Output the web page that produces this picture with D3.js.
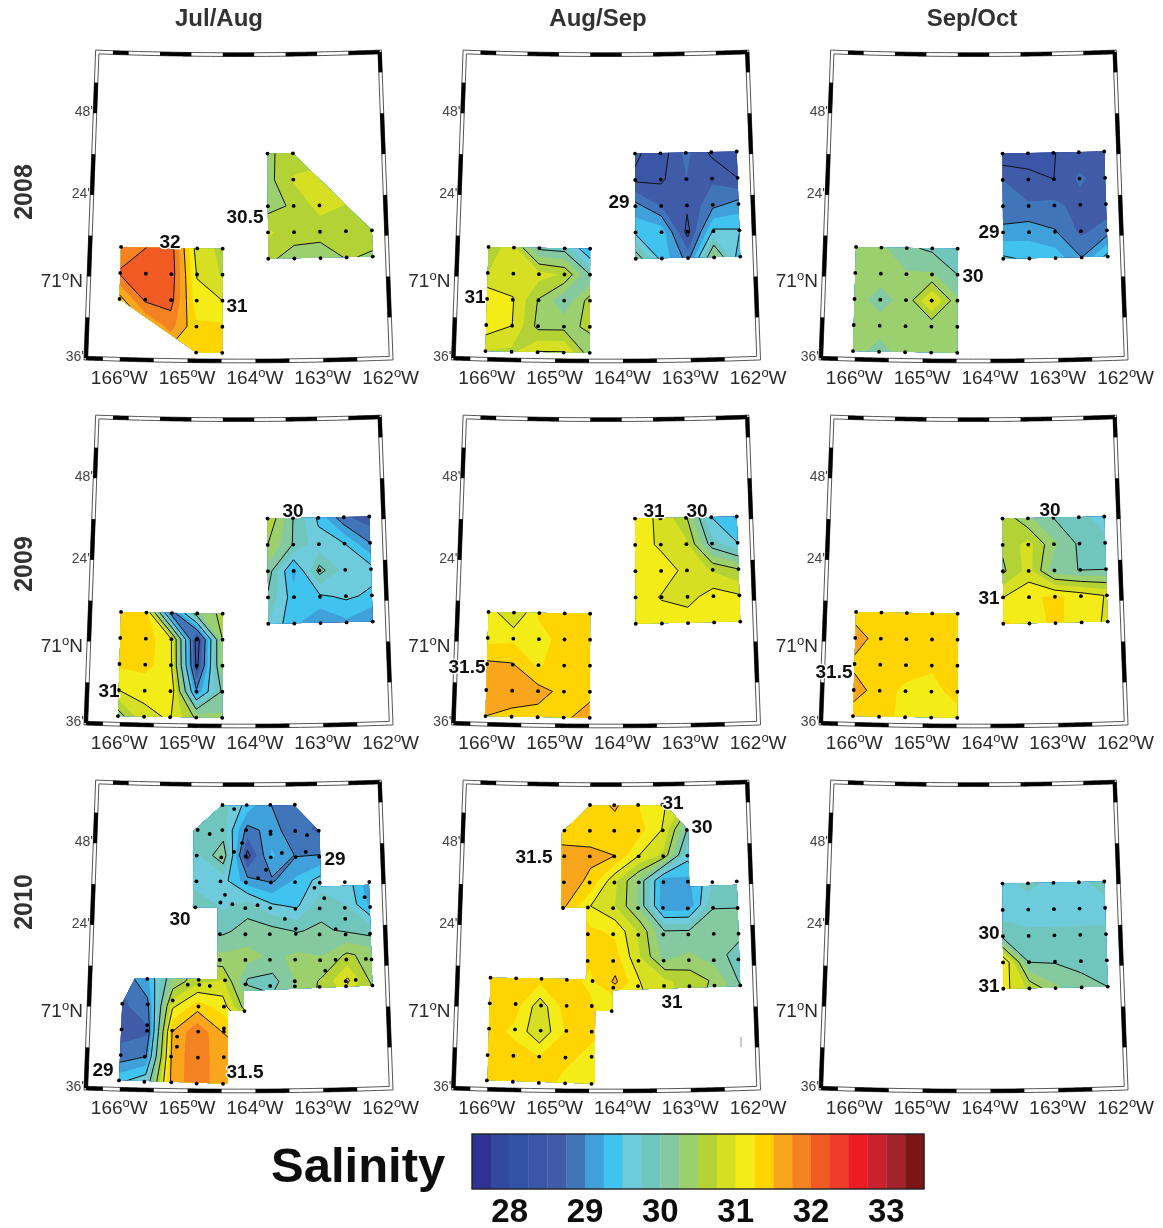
<!DOCTYPE html>
<html>
<head>
<meta charset="utf-8">
<script src="https://cdn.jsdelivr.net/npm/d3@7"></script>
<style>
  html, body { margin: 0; background: #fff; }
  svg { display: block; }
  text { font-family: "Liberation Sans", Arial, sans-serif; }
</style>
</head>
<body>
<div id="container"></div>
<script>
const n = null;

// colour bands of the salinity scale, one per 0.25
const bandEdges = d3.range(27.5, 33.5, 0.25);
const bandColors = ["#2e3192", "#3049a0", "#3353a6", "#3a57a7", "#3f5ba9", "#3f75b9",
  "#41a0da", "#3fc3ee", "#6dcbdb", "#70c6bd", "#84c99f", "#9ccf6e",
  "#b2d235", "#d7df23", "#f3ec19", "#ffd400", "#faa61a", "#f58220",
  "#f15a22", "#ef3a29", "#ed1c24", "#c9202d", "#a4242a", "#7a1716"];
const barTicks = [28, 29, 30, 31, 32, 33];
const lineLevels = [28, 28.5, 29, 29.5, 30, 30.5, 31, 31.5, 32];

const periods = ["Jul/Aug", "Aug/Sep", "Sep/Oct"];
const years = ["2008", "2009", "2010"];

// salinity at the stations, top row first
const jul08Klondike = [
  [31.75, 32.0, 32.1, 30.85, 30.7],
  [32.05, 32.15, 32.15, 30.98, 30.72],
  [31.4, 32.05, 32.1, 31.1, 31.0],
  [31.2, 31.45, 31.85, 31.3, 31.3],
  [31.2, 31.2, 31.4, 31.5, 31.35]];
const jul08Burger = [
  [30.45, 30.62, 30.65, 30.6, 30.6],
  [30.4, 30.78, 30.82, 30.7, 30.6],
  [30.38, 30.55, 30.85, 30.75, 30.6],
  [30.8, 30.6, 30.6, 30.6, 30.6],
  [30.55, 30.4, 30.35, 30.52, 30.47]];
const aug08Klondike = [
  [30.7, 30.8, 29.95, 29.9, 29.2],
  [30.75, 30.85, 30.85, 30.72, 30.0],
  [31.2, 31.02, 30.48, 30.05, 30.62],
  [31.15, 31.0, 30.42, 30.42, 30.55],
  [30.75, 30.7, 31.02, 31.02, 30.35]];
const aug08Burger = [
  [28.55, 28.35, 28.82, 28.45, 28.35],
  [28.45, 28.45, 28.75, 28.7, 28.5],
  [29.1, 28.75, 28.55, 28.92, 29.1],
  [29.45, 29.4, 28.4, 29.55, 29.52],
  [30.2, 29.4, 28.9, 30.4, 29.3]];
const sep08Klondike = [
  [30.3, 30.3, 30.05, 29.95, 29.85],
  [30.3, 30.3, 30.28, 30.28, 30.0],
  [30.3, 30.2, 30.3, 31.05, 30.3],
  [30.3, 30.3, 30.3, 30.3, 30.3],
  [30.3, 30.2, 30.3, 30.3, 30.3]];
const sep08Burger = [
  [28.3, 28.35, 28.49, 28.6, 28.6],
  [28.75, 28.6, 28.5, 28.8, 28.6],
  [28.78, 28.78, 28.82, 28.65, 28.62],
  [29.1, 29.15, 29.02, 28.7, 28.85],
  [29.55, 29.45, 29.4, 29.0, 29.6]];
const jul09Klondike = [
  [31.3, 31.35, 28.8, 30.2, 30.6],
  [31.35, 31.4, 31.0, 28.3, 30.5],
  [31.3, 31.35, 31.05, 28.4, 30.45],
  [31.0, 31.05, 31.28, 29.05, 30.05],
  [30.35, 30.95, 31.02, 30.45, 30.3]];
const jul09Burger = [
  [30.75, 30.0, 29.45, 28.8, 28.6],
  [30.5, 29.98, 29.6, 29.5, 29.0],
  [30.15, 29.15, 30.1, 29.65, 29.6],
  [29.95, 29.35, 29.45, 29.55, 29.45],
  [29.75, 29.3, 29.0, 29.2, 29.0]];
const aug09Klondike = [
  [31.15, 30.72, 31.3, 31.32, 31.35],
  [31.15, 31.2, 31.15, 31.35, 31.35],
  [31.55, 31.52, 31.2, 31.5, 31.38],
  [31.7, 31.7, 31.6, 31.42, 31.42],
  [31.5, 31.4, 31.4, 31.45, 31.62]];
const aug09Burger = [
  [31.12, 30.95, 30.55, 29.5, 29.2],
  [31.15, 30.95, 30.8, 29.85, 29.5],
  [31.12, 31.15, 30.92, 30.72, 30.5],
  [31.15, 30.98, 30.9, 31.12, 31.02],
  [31.15, 31.15, 31.15, 31.15, 31.15]];
const sep09Klondike = [
  [31.35, 31.35, 31.35, 31.35, 31.35],
  [31.65, 31.35, 31.35, 31.35, 31.35],
  [31.42, 31.42, 31.35, 31.27, 31.35],
  [31.65, 31.35, 31.2, 31.2, 31.3],
  [31.32, 31.32, 31.2, 31.2, 31.2]];
const sep09Burger = [
  [30.7, 30.3, 30.0, 29.85, 29.6],
  [30.55, 30.85, 30.3, 29.95, 29.85],
  [30.45, 30.85, 30.1, 29.99, 29.99],
  [31.0, 31.2, 31.3, 31.15, 30.98],
  [31.3, 31.15, 31.3, 31.15, 30.95]];
const sep10Burger = [
  [29.7, 29.8, 29.7, 29.7, 29.85],
  [29.65, 29.65, 29.65, 29.65, 29.65],
  [29.9, 29.8, 29.8, 29.8, 29.8],
  [31.3, 30.0, 29.98, 29.92, 29.85],
  [31.1, 30.7, 30.3, 30.1, 30.0]];
const jul10Wide = [
  [n, n, n, n, 29.85, 29.4, 29.0, 28.8, n, n, n],
  [n, n, n, 29.8, 29.85, 28.9, 29.1, 28.85, 28.7, n, n],
  [n, n, n, 29.75, 30.2, 28.4, 29.3, 28.98, 29.0, n, n],
  [n, n, n, 29.55, 29.6, 29.1, 28.95, 29.3, 29.6, 29.7, 29.0],
  [n, n, n, 29.98, 29.7, 29.9, 29.55, 29.45, 29.9, 29.75, 29.2],
  [n, n, n, n, 29.95, 30.1, 30.1, 29.98, 30.05, 29.95, 29.85],
  [n, n, n, n, 30.3, 30.35, 30.2, 30.3, 30.25, 30.55, 30.4],
  [28.8, 29.2, 30.3, 30.7, 30.8, 29.95, 29.9, 30.3, 30.55, 31.05, 30.4],
  [28.7, 28.9, 30.95, 31.4, 31.15, 30.3, n, n, n, n, n],
  [28.65, 28.7, 31.5, 31.95, 31.5, n, n, n, n, n, n],
  [28.85, 29.0, 31.55, 31.95, 31.55, n, n, n, n, n, n],
  [29.45, 29.7, 31.55, 31.95, 31.55, n, n, n, n, n, n]];
const aug10Wide = [
  [n, n, n, n, 31.35, 31.55, 31.25, 31.05, n, n, n],
  [n, n, n, 31.35, 31.4, 31.35, 31.35, 30.98, 30.0, n, n],
  [n, n, n, 31.6, 31.55, 31.5, 31.0, 30.7, 29.6, n, n],
  [n, n, n, 31.62, 31.45, 30.8, 30.2, 29.1, 29.2, 29.7, 29.75],
  [n, n, n, 31.5, 31.0, 30.75, 30.2, 29.05, 29.05, 29.98, 29.98],
  [n, n, n, n, 31.3, 31.2, 30.7, 30.0, 30.0, 30.1, 30.1],
  [n, n, n, n, 31.3, 31.35, 30.75, 30.15, 30.3, 30.1, 29.9],
  [31.35, 31.35, 31.3, 31.35, 31.2, 31.55, 31.0, 30.8, 30.65, 30.45, 29.95],
  [31.35, 31.35, 30.85, 31.35, 31.3, 31.02, n, n, n, n, n],
  [31.35, 31.2, 30.8, 31.25, 31.3, n, n, n, n, n, n],
  [31.35, 31.35, 31.25, 31.3, 31.2, n, n, n, n, n, n],
  [31.35, 31.35, 31.35, 31.2, 31.2, n, n, n, n, n, n]];

// survey boxes
const klondike = { lon: [-166.03, -164.49], lat: [71.15, 70.64] };
const burger = { lon: [-163.80, -162.22], lat: [71.615, 71.10] };
const wide = { lon: [-166.0, -162.22], lat: [72.0, 70.64] };

const squareOutline = [[0, 0], [4, 0], [4, 4], [0, 4]];
const jul08KlondikeOutline = [[0, 0], [4, 0], [4, 4], [3, 4], [0, 2]];
const jul08BurgerOutline = [[0, 0], [1, 0], [4, 3], [4, 4], [0, 4]];
const jul08KlondikeStations = [[0, 0], [2, 0], [3, 0], [4, 0], [0, 1], [1, 1], [2, 1], [3, 1], [4, 1],
  [0, 2], [1, 2], [2, 2], [3, 2], [4, 2], [3, 3], [4, 3], [3, 4], [4, 4]];
const jul08BurgerStations = [[0, 0], [1, 0], [1, 1], [0, 2], [1, 2], [2, 2],
  [0, 3], [1, 3], [2, 3], [3, 3], [4, 3], [0, 4], [1, 4], [2, 4], [3, 4], [4, 4]];

// 2010 tracks, digitised positions on the wide lattice
const jul10Outline = [[415, 45], [645, 45], [725, 125], [725, 290], [875, 288], [875, 590], [485, 600], [485, 660],
  [437, 660], [437, 878], [115, 872], [118, 640], [155, 565], [405, 565], [405, 350], [328, 350], [328, 120]];
const jul10Stations = [[418, 43], [495, 43], [570, 43], [648, 43], [455, 55],
  [340, 118], [378, 130], [418, 118], [493, 118], [570, 122], [570, 130], [648, 122], [685, 135], [722, 122],
  [480, 157], [492, 197], [455, 183], [415, 200], [338, 195], [605, 187], [570, 200], [648, 200], [680, 185], [722, 200],
  [555, 237], [530, 262], [338, 272], [413, 272], [492, 275], [570, 275], [645, 275], [722, 278], [800, 278], [876, 280],
  [705, 293], [427, 312], [735, 325], [860, 325],
  [335, 350], [413, 335], [450, 340], [528, 343], [567, 352], [645, 355], [720, 355], [798, 355], [876, 355],
  [490, 352], [612, 385], [798, 388],
  [412, 430], [490, 430], [565, 430], [645, 415], [645, 430], [718, 433], [768, 418], [798, 435], [873, 435],
  [412, 507], [490, 507], [565, 507], [642, 507], [718, 510], [765, 510], [798, 510], [858, 510], [875, 512], [733, 542],
  [192, 567], [348, 567], [350, 582], [382, 585], [428, 568], [315, 582],
  [490, 580], [565, 585], [640, 572], [640, 587], [715, 590], [795, 575], [795, 590], [825, 572], [875, 590],
  [118, 643], [195, 643], [270, 630], [348, 647], [425, 647], [487, 660],
  [118, 720], [195, 705], [195, 722], [270, 720], [285, 738], [348, 722], [425, 712], [425, 722], [285, 768],
  [118, 797], [190, 800], [268, 798], [348, 800], [425, 798],
  [115, 873], [190, 875], [270, 875], [345, 878], [423, 878]];
const aug10Outline = [[410, 45], [650, 45], [720, 120], [720, 290], [868, 288], [868, 592], [480, 598], [480, 660],
  [428, 660], [428, 878], [110, 872], [110, 565], [400, 565], [400, 350], [322, 350], [322, 125]];
const aug10Stations = [[410, 43], [487, 43], [563, 43], [640, 43],
  [330, 120], [410, 120], [487, 120], [563, 120], [640, 120], [716, 120],
  [330, 197], [410, 197], [487, 197], [563, 197], [640, 197], [716, 197],
  [330, 275], [410, 275], [487, 275], [563, 275], [640, 275], [716, 275], [792, 278], [868, 278],
  [328, 352], [405, 350], [483, 352], [560, 352], [637, 352], [714, 355], [792, 355], [868, 358],
  [405, 430], [483, 430], [560, 432], [637, 432], [714, 433], [792, 433], [868, 435],
  [405, 510], [483, 510], [560, 510], [637, 510], [714, 510], [790, 512], [865, 512],
  [420, 570], [483, 590], [558, 586], [637, 586], [714, 588], [790, 588], [868, 590], [478, 660],
  [110, 565], [188, 565], [265, 565], [342, 567],
  [110, 642], [188, 642], [265, 645], [342, 645], [418, 645],
  [110, 718], [188, 718], [265, 720], [342, 720], [418, 722],
  [108, 797], [185, 797], [262, 798], [340, 800], [418, 797],
  [108, 873], [185, 875], [262, 877], [340, 877], [418, 878]];

const jul10X = d3.scaleLinear([118, 876], [0, 10]);
const jul10Y = d3.scaleLinear([43, 875], [0, 11]);
const aug10X = d3.scaleLinear([110, 868], [0, 10]);
const aug10Y = d3.scaleLinear([43, 875], [0, 11]);
const toLattice = (pts, x, y) => pts.map(([a, b]) => [x(a), y(b)]);
const allStations = d3.cross(d3.range(5), d3.range(5));

// col, row, surveys
const panels = [
  { col: 0, row: 0, surveys: [
    { values: jul08Klondike, site: klondike, outline: jul08KlondikeOutline, stations: jul08KlondikeStations },
    { values: jul08Burger, site: burger, outline: jul08BurgerOutline, stations: jul08BurgerStations }] },
  { col: 1, row: 0, surveys: [{ values: aug08Klondike, site: klondike }, { values: aug08Burger, site: burger }] },
  { col: 2, row: 0, surveys: [{ values: sep08Klondike, site: klondike }, { values: sep08Burger, site: burger }] },
  { col: 0, row: 1, surveys: [{ values: jul09Klondike, site: klondike }, { values: jul09Burger, site: burger }] },
  { col: 1, row: 1, surveys: [{ values: aug09Klondike, site: klondike }, { values: aug09Burger, site: burger }] },
  { col: 2, row: 1, surveys: [{ values: sep09Klondike, site: klondike }, { values: sep09Burger, site: burger }] },
  { col: 0, row: 2, surveys: [{ values: jul10Wide, site: wide,
    outline: toLattice(jul10Outline, jul10X, jul10Y), stations: toLattice(jul10Stations, jul10X, jul10Y) }] },
  { col: 1, row: 2, surveys: [{ values: aug10Wide, site: wide,
    outline: toLattice(aug10Outline, aug10X, aug10Y), stations: toLattice(aug10Stations, aug10X, aug10Y) }] },
  { col: 2, row: 2, surveys: [{ values: sep10Burger, site: burger }] }
];

// contour labels, page position
const contourLabels = [
  ["32", 170, 241], ["31", 237, 305], ["30.5", 245, 216],
  ["31", 475, 296], ["29", 619, 201],
  ["30", 973, 275], ["29", 989, 231],
  ["31", 109, 690], ["30", 293, 510],
  ["31.5", 467, 666], ["31", 654, 510], ["30", 697, 510],
  ["31.5", 834, 671], ["30", 1050, 509], ["31", 989, 597],
  ["30", 180, 918], ["29", 335, 858], ["29", 103, 1069], ["31.5", 245, 1071],
  ["31.5", 534, 856], ["31", 673, 802], ["30", 702, 826], ["31", 672, 1001],
  ["30", 989, 932], ["31", 989, 985]
];

// map frame
const lonRange = [-166.5, -162];
const latRange = [70.6, 72.1];
const lonTicks = [-166, -165, -164, -163, -162];
const minuteTicks = [[70.6, "36'"], [71.4, "24'"], [71.8, "48'"]];
const bottomBlack = [[-166.5, -166.25], [-166, -165.5], [-165, -164.5], [-164, -163.5], [-163, -162.5]];
const topBlack = [[-166.25, -166], [-165.5, -165], [-164.5, -164], [-163.5, -163], [-162.5, -162]];
const leftBlack = [[70.6, 70.8], [71, 71.2], [71.4, 71.6], [71.8, 71.95]];
const rightBlack = [[70.8, 71], [71.2, 71.4], [71.6, 71.8], [72, 72.1]];

const width = 1163, height = 1228;
const panelX = [0, 367.5, 735];
const panelY = [0, 365, 730];

const svg = d3.select("#container").append("svg")
  .attr("width", width).attr("height", height);

const defs = svg.append("defs");
defs.append("filter").attr("id", "soft").attr("x", 0).attr("y", 0).attr("width", 1).attr("height", 1)
  .attr("filterUnits", "objectBoundingBox")
  .append("feGaussianBlur").attr("stdDeviation", 0.55);

const page = svg.append("g").attr("filter", "url(#soft)");
page.append("rect").attr("width", width).attr("height", height).attr("fill", "#fff");

const projection = d3.geoConicConformal()
  .parallels(latRange)
  .rotate([164.25, 0])
  .fitExtent([[85, 52], [392, 361]], {
    type: "MultiPoint",
    coordinates: [[lonRange[0], latRange[0]], [lonRange[1], latRange[0]], [lonRange[0], latRange[1]],
      [lonRange[1], latRange[1]], [-164.25, latRange[0]]]
  });

const line = d3.line();

function parallel(lat, lon0, lon1) {
  return line(d3.range(0, 1.0001, 0.05).map(t => projection([lon0 + (lon1 - lon0) * t, lat])));
}
function meridian(lon, lat0, lat1) {
  return line([projection([lon, lat0]), projection([lon, lat1])]);
}

// empty stations become the mean of their neighbours, so contours run through the clip edge
function fillGaps(rows) {
  const out = rows.map(r => r.slice());
  let open = true;
  while (open) {
    open = false;
    const snap = out.map(r => r.slice());
    snap.forEach((r, j) => r.forEach((v, i) => {
      if (v !== null) return;
      const near = [];
      for (let b = -1; b <= 1; b++) for (let a = -1; a <= 1; a++) {
        const w = snap[j + b] && snap[j + b][i + a];
        if (w !== null && w !== undefined) near.push(w);
      }
      if (near.length) out[j][i] = d3.mean(near);
      else open = true;
    }));
  }
  return out;
}

function padded(rows) {
  const ny = rows.length, nx = rows[0].length, flat = [];
  for (let j = -1; j <= ny; j++) for (let i = -1; i <= nx; i++) {
    flat.push(rows[Math.max(0, Math.min(ny - 1, j))][Math.max(0, Math.min(nx - 1, i))]);
  }
  return { flat, w: nx + 2, h: ny + 2 };
}

let clipId = 0;

function drawSurvey(g, survey) {
  const rows = fillGaps(survey.values);
  const lonOf = d3.scaleLinear([0, rows[0].length - 1], survey.site.lon);
  const latOf = d3.scaleLinear([0, rows.length - 1], survey.site.lat);
  const place = ([c, r]) => projection([lonOf(c), latOf(r)]);

  const id = "clip" + (clipId++);
  const outline = survey.outline || squareOutline;
  defs.append("clipPath").attr("id", id)
    .append("path").attr("d", line(outline.map(place)) + "Z");

  const { flat, w, h } = padded(rows);
  const contours = d3.contours().size([w, h]);
  const pathOf = t => contours.contour(flat, t).coordinates
    .flat()
    .map(ring => line(ring.map(([x, y]) => place([x - 1.5, y - 1.5]))) + "Z")
    .join("");

  const area = g.append("g").attr("clip-path", `url(#${id})`);
  area.selectAll("path.band").data(bandEdges).join("path")
    .attr("class", "band")
    .attr("fill-rule", "evenodd")
    .attr("fill", (d, i) => bandColors[i])
    .attr("d", pathOf);
  area.selectAll("path.level").data(lineLevels).join("path")
    .attr("class", "level")
    .attr("fill", "none")
    .attr("stroke", "#111")
    .attr("stroke-width", 1)
    .attr("stroke-linejoin", "round")
    .attr("d", pathOf);

  g.append("g").selectAll("circle").data(survey.stations || allStations).join("circle")
    .attr("cx", d => place(d)[0])
    .attr("cy", d => place(d)[1])
    .attr("r", 1.9)
    .attr("fill", "#000");
}

function drawFrame(g) {
  const [lon0, lon1] = lonRange, [lat0, lat1] = latRange;
  const dLon = 0.027, dLat = 0.009;
  [[dLon, dLat], [-dLon, -dLat]].forEach(([a, b]) => {
    const d = parallel(lat0 - b, lon0 - a, lon1 + a) + parallel(lat1 + b, lon0 - a, lon1 + a)
      + meridian(lon0 - a, lat0 - b, lat1 + b) + meridian(lon1 + a, lat0 - b, lat1 + b);
    g.append("path").attr("d", d).attr("fill", "none").attr("stroke", "#555").attr("stroke-width", 1);
  });
  const thick = g.append("g").attr("fill", "none").attr("stroke", "#000").attr("stroke-width", 3.8);
  bottomBlack.forEach(s => thick.append("path").attr("d", parallel(lat0, s[0], s[1])));
  topBlack.forEach(s => thick.append("path").attr("d", parallel(lat1, s[0], s[1])));
  leftBlack.forEach(s => thick.append("path").attr("d", meridian(lon0, s[0], s[1])));
  rightBlack.forEach(s => thick.append("path").attr("d", meridian(lon1, s[0], s[1])));

  const lonLabel = g.append("g").attr("fill", "#2b2b2b").attr("font-size", 19).attr("text-anchor", "middle")
    .selectAll("text").data(lonTicks).join("text")
    .attr("x", d => projection([d, lat0])[0] - 0.5)
    .attr("y", 384);
  lonLabel.append("tspan").text(d => -d);
  lonLabel.append("tspan").attr("font-size", 13).attr("dy", -7).text("o");
  lonLabel.append("tspan").attr("dy", 7).text("W");

  const p71 = projection([lon0, 71]);
  const latLabel = g.append("text").attr("fill", "#2b2b2b").attr("font-size", 19).attr("text-anchor", "end")
    .attr("x", p71[0] - 6).attr("y", p71[1] + 10);
  latLabel.append("tspan").text("71");
  latLabel.append("tspan").attr("font-size", 13).attr("dy", -7).text("o");
  latLabel.append("tspan").attr("dy", 7).text("N");

  g.append("g").attr("fill", "#444").attr("font-size", 14).attr("text-anchor", "end")
    .selectAll("text").data(minuteTicks).join("text")
    .attr("x", d => projection([lon0, d[0]])[0] - 2)
    .attr("y", d => projection([lon0, d[0]])[1] + 3)
    .text(d => d[1]);
}

panels.forEach(p => {
  const g = page.append("g").attr("transform", `translate(${panelX[p.col]},${panelY[p.row]})`);
  p.surveys.forEach(s => drawSurvey(g, s));
  drawFrame(g);
});

// stray mark in the 2010 Aug/Sep panel
page.append("line").attr("x1", 741).attr("x2", 741).attr("y1", 1037).attr("y2", 1047)
  .attr("stroke", "#999").attr("stroke-width", 1);

page.append("g").attr("font-size", 19).attr("font-weight", "bold").attr("fill", "#111").attr("text-anchor", "middle")
  .selectAll("text").data(contourLabels).join("text")
  .attr("x", d => d[1]).attr("y", d => d[2] + 7)
  .attr("stroke", "#fff").attr("stroke-width", 2.5).attr("paint-order", "stroke")
  .text(d => d[0]);

// headers
const headerX = [219, 598, 972];
page.append("g").attr("font-size", 24).attr("font-weight", "bold").attr("fill", "#333").attr("text-anchor", "middle")
  .selectAll("text").data(periods).join("text")
  .attr("x", (d, i) => headerX[i]).attr("y", 26).text(d => d);
const yearY = [192, 564, 902];
page.append("g").attr("font-size", 25).attr("font-weight", "bold").attr("fill", "#333").attr("text-anchor", "middle")
  .selectAll("text").data(years).join("text")
  .attr("transform", (d, i) => `translate(32,${yearY[i]}) rotate(-90)`).text(d => d);

// colour bar
const barX = d3.scaleLinear([27.5, 33.5], [472, 924]);
const bar = page.append("g");
bar.selectAll("rect").data(bandEdges).join("rect")
  .attr("x", d => barX(d)).attr("y", 1134)
  .attr("width", d => barX(d + 0.25) - barX(d) + 0.3).attr("height", 55)
  .attr("fill", (d, i) => bandColors[i]);
bar.append("rect").attr("x", 472).attr("y", 1134).attr("width", 452).attr("height", 55)
  .attr("fill", "none").attr("stroke", "#222").attr("stroke-width", 1.4);
bar.selectAll("text").data(barTicks).join("text")
  .attr("x", d => barX(d)).attr("y", 1222)
  .attr("text-anchor", "middle").attr("font-size", 33).attr("font-weight", "bold").attr("fill", "#111")
  .text(d => d);
page.append("text").attr("x", 271).attr("y", 1182)
  .attr("font-size", 49).attr("font-weight", "bold").attr("fill", "#111").text("Salinity");
</script>
</body>
</html>
